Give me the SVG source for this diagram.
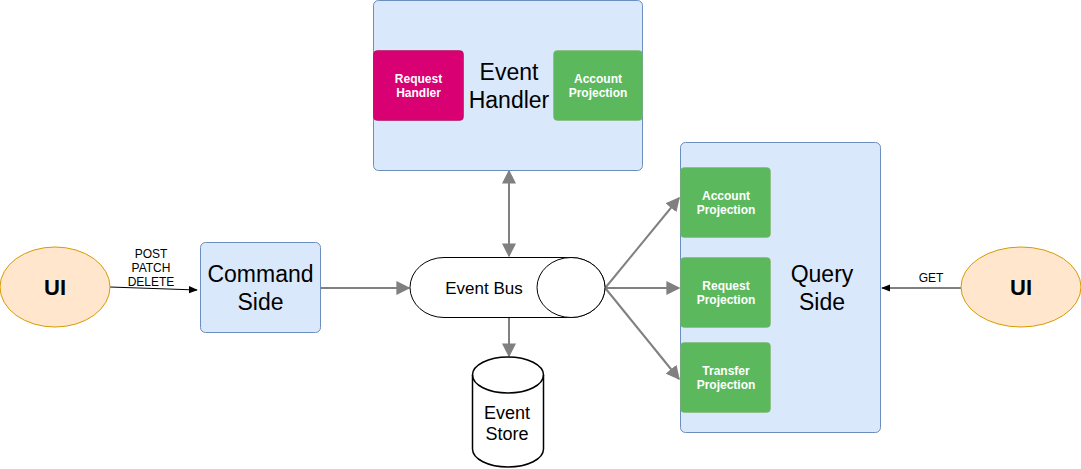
<svg xmlns="http://www.w3.org/2000/svg" width="1081" height="469" viewBox="0 0 1081 469">
<style>
.t{font-family:"Liberation Sans",Arial,sans-serif;text-anchor:middle;fill:#000}
.blue{fill:#dae8fc;stroke:#6c8ebf;stroke-width:1}
.green{fill:#5cb85c;stroke:#82b366;stroke-width:0.5}
.w{font-family:"Liberation Sans",Arial,sans-serif;text-anchor:middle;fill:#fff;font-weight:bold;font-size:12px}
.ui{fill:#ffe6cc;stroke:#d79b00;stroke-width:1}
.g{stroke:#808080;stroke-width:2;fill:none}
.k{stroke:#000;stroke-width:1;fill:none}
</style>
<defs>
<marker id="agl" viewBox="0 0 10 10" refX="9" refY="5" markerWidth="14" markerHeight="14" orient="auto-start-reverse" markerUnits="userSpaceOnUse">
<path d="M0,0 L10,5 L0,10 z" fill="#808080"/>
</marker>
<marker id="ak" viewBox="0 0 10 10" refX="9" refY="5" markerWidth="9" markerHeight="9" orient="auto" markerUnits="userSpaceOnUse">
<path d="M0,1 L10,5 L0,9 z" fill="#000"/>
</marker>
</defs>
<g id="connectors">
<line class="k" x1="110" y1="287" x2="197" y2="290" marker-end="url(#ak)"/>
<line class="g" x1="321" y1="288" x2="409" y2="288" marker-end="url(#agl)"/>
<line class="g" x1="509" y1="171" x2="509" y2="256" marker-start="url(#agl)" marker-end="url(#agl)"/>
<line class="g" x1="509" y1="317" x2="509" y2="356" marker-end="url(#agl)"/>
<line class="g" x1="606" y1="287" x2="679" y2="198" marker-end="url(#agl)"/>
<line class="g" x1="606" y1="288" x2="679" y2="288" marker-end="url(#agl)"/>
<line class="g" x1="606" y1="289" x2="679" y2="379" marker-end="url(#agl)"/>
<line class="k" x1="961" y1="288" x2="882" y2="288" marker-end="url(#ak)"/>
<text class="t" font-size="12" x="151" y="258">POST</text>
<text class="t" font-size="12" x="151" y="272">PATCH</text>
<text class="t" font-size="12" x="151" y="286">DELETE</text>
<text class="t" font-size="12" x="931" y="282">GET</text>
</g>
<g id="ui-left">
<ellipse class="ui" cx="55" cy="287" rx="55" ry="40"/>
<text class="t" font-size="22" font-weight="bold" x="55" y="295">UI</text>
</g>
<g id="command-side">
<rect class="blue" x="200.5" y="242.5" width="120" height="90" rx="5"/>
<text class="t" font-size="23" x="260.5" y="282">Command</text>
<text class="t" font-size="23" x="260.5" y="310">Side</text>
</g>
<g id="event-handler">
<rect class="blue" x="373.5" y="0.5" width="269" height="170" rx="5"/>
<text class="t" font-size="23" x="509" y="80">Event</text>
<text class="t" font-size="23" x="509" y="108">Handler</text>
</g>
<g id="request-handler">
<rect x="373.5" y="50.5" width="90" height="70" rx="4" fill="#d80073" stroke="#a50040" stroke-width="0.5"/>
<text class="w" x="418.5" y="83">Request</text>
<text class="w" x="418.5" y="97">Handler</text>
</g>
<g id="account-projection-eh">
<rect class="green" x="553.5" y="50.5" width="89" height="70" rx="4"/>
<text class="w" x="598" y="83">Account</text>
<text class="w" x="598" y="97">Projection</text>
</g>
<g id="event-bus">
<path d="M444,257.5 L571,257.5 A34,30 0 0 1 571,317.5 L444,317.5 A34,30 0 0 1 444,257.5 z" fill="#fff" stroke="#000" stroke-width="1"/>
<ellipse cx="571" cy="287.5" rx="34" ry="30" fill="#fff" stroke="#000" stroke-width="1"/>
<text class="t" font-size="17" x="484" y="294">Event Bus</text>
</g>
<g id="event-store">
<path d="M472.5,375 L472.5,449 A35.5,18 0 0 0 543.5,449 L543.5,375 A35.5,18 0 0 0 472.5,375 z" fill="#fff" stroke="#000" stroke-width="1.5"/>
<path d="M472.5,375 A35.5,18 0 0 0 543.5,375" fill="none" stroke="#000" stroke-width="1.5"/>
<text class="t" font-size="18" x="507" y="419">Event</text>
<text class="t" font-size="18" x="507" y="440">Store</text>
</g>
<g id="query-side">
<rect class="blue" x="680.5" y="142.5" width="200" height="290" rx="5"/>
<text class="t" font-size="23" x="822" y="282">Query</text>
<text class="t" font-size="23" x="822" y="310">Side</text>
</g>
<g id="account-projection">
<rect class="green" x="680.5" y="167.5" width="90" height="70" rx="4"/>
<text class="w" x="726" y="200">Account</text>
<text class="w" x="726" y="214">Projection</text>
</g>
<g id="request-projection">
<rect class="green" x="680.5" y="257.5" width="90" height="70" rx="4"/>
<text class="w" x="726" y="290">Request</text>
<text class="w" x="726" y="304">Projection</text>
</g>
<g id="transfer-projection">
<rect class="green" x="680.5" y="342.5" width="90" height="70" rx="4"/>
<text class="w" x="726" y="375">Transfer</text>
<text class="w" x="726" y="389">Projection</text>
</g>
<g id="ui-right">
<ellipse class="ui" cx="1021" cy="287" rx="60" ry="40"/>
<text class="t" font-size="22" font-weight="bold" x="1021" y="295">UI</text>
</g>
</svg>
